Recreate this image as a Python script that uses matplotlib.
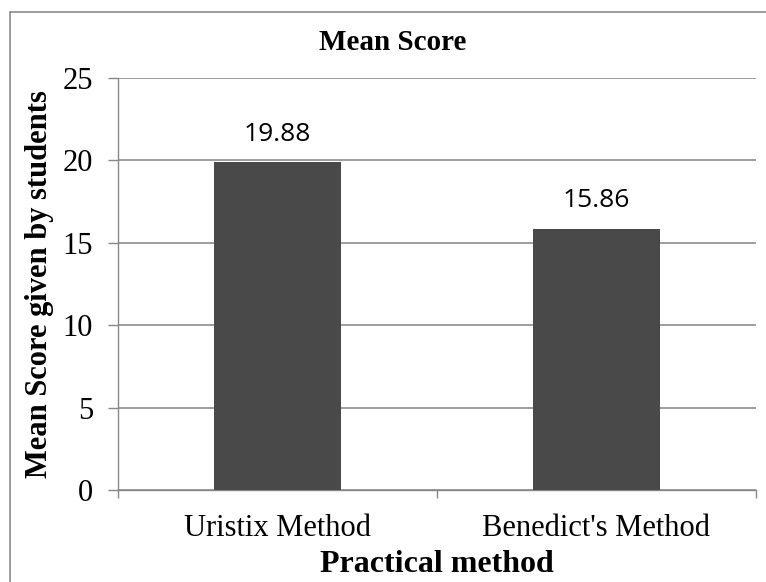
import matplotlib.pyplot as plt
from matplotlib.patches import Rectangle

methods = ["Uristix Method", "Benedict's Method"]
scores = [19.88, 15.86]
y_ticks = [0, 5, 10, 15, 20, 25]

W, H = 766, 582
fig = plt.figure(figsize=(W / 100, H / 100), dpi=100)
ax = fig.add_axes([118 / W, 1 - 490 / H, (756 - 118) / W, (490 - 78) / H])

serif = "Liberation Serif"

x = list(range(len(methods)))
ax.bar(x, scores, width=0.4, color="#494949", zorder=3)

ax.set_xlim(-0.5, len(methods) - 0.5)
ax.set_ylim(0, 25)
ax.set_yticks(y_ticks)
ax.set_yticklabels([str(t) for t in y_ticks], family=serif, fontsize=22)
ax.set_xticks(x)
ax.set_xticklabels(methods, family=serif, fontsize=22)
ax.set_xticks([-0.5, 0.5, 1.5], minor=True)
ax.tick_params(axis="x", which="major", length=0, pad=17)
ax.tick_params(axis="x", which="minor", length=6, color="#888888", width=1)
ax.tick_params(axis="y", length=7, color="#888888", width=1, pad=11)

ax.grid(axis="y", color="#8c8c8c", linewidth=1.2, zorder=0)
for s in ["top", "right"]:
    ax.spines[s].set_visible(False)
for s in ["left", "bottom"]:
    ax.spines[s].set_color("#888888")
    ax.spines[s].set_linewidth(1)

for xi, v in zip(x, scores):
    ax.annotate(f"{v:.2f}", (xi, v), xytext=(0, 11), textcoords="offset points",
                ha="center", va="bottom", family="Open Sans", fontsize=19)

ax.set_xlabel("Practical method", family=serif, fontsize=23, fontweight="bold", labelpad=5)
ax.set_ylabel("Mean Score given by students", family=serif, fontsize=22, fontweight="bold", labelpad=6)
fig.text(393 / W, 1 - 43 / H, "Mean Score", family=serif, fontsize=21, fontweight="bold",
         ha="center", va="center")

fig.patches.append(Rectangle((10 / W, -0.1), 1.2, 1 - 12 / H + 0.1, transform=fig.transFigure,
                             fill=False, edgecolor="#8a8a8a", linewidth=1.2))

fig.savefig("out.png", dpi=100)
